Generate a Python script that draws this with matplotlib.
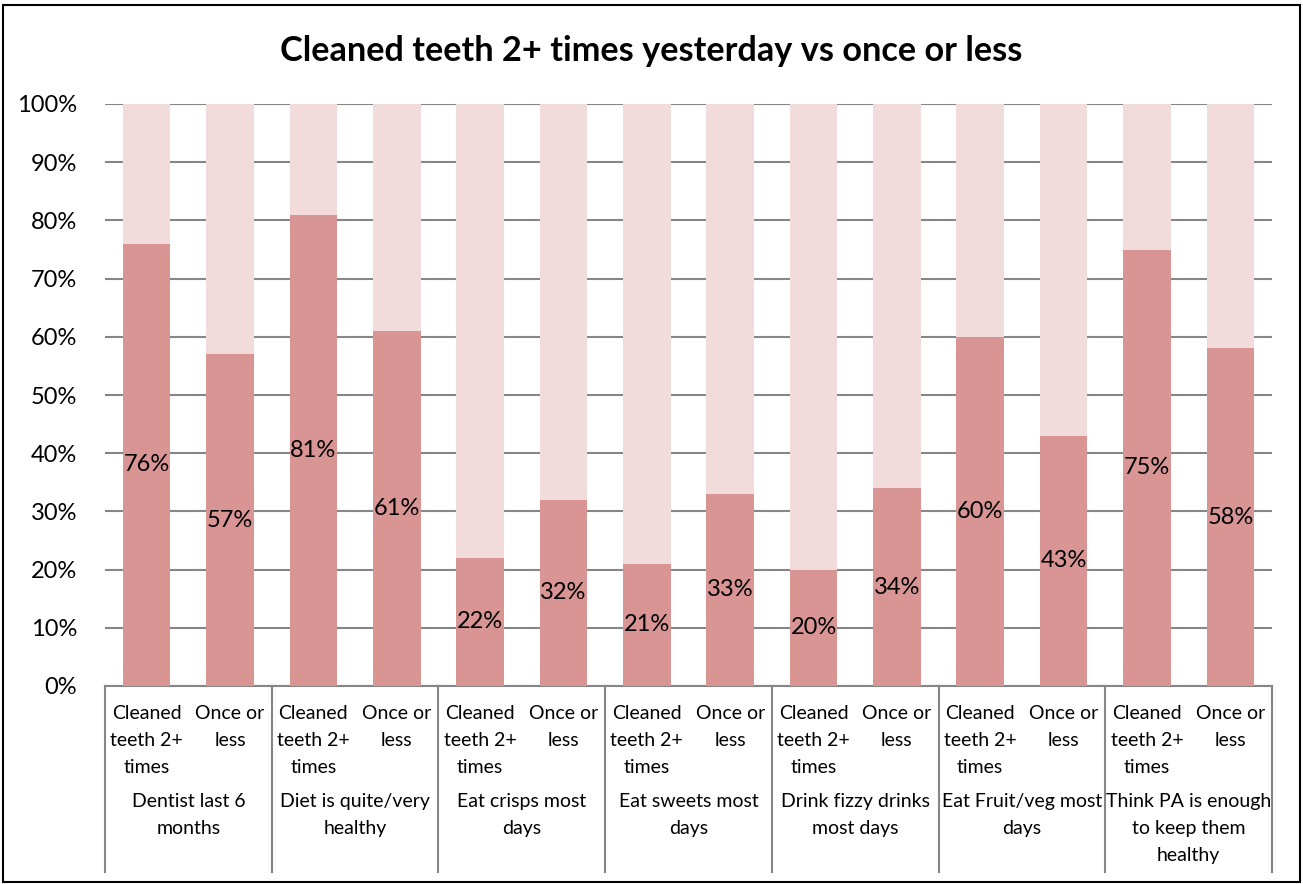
import matplotlib.pyplot as plt
from matplotlib.patches import Rectangle
from matplotlib.lines import Line2D
import numpy as np

plt.rcParams['font.family'] = ['Lato', 'DejaVu Sans']

# data
groups = ['Dentist last 6\nmonths', 'Diet is quite/very\nhealthy', 'Eat crisps most\ndays',
          'Eat sweets most\ndays', 'Drink fizzy drinks\nmost days', 'Eat Fruit/veg most\ndays',
          'Think PA is enough\nto keep them\nhealthy']
sub_labels = ['Cleaned\nteeth 2+\ntimes', 'Once or\nless']
cleaned_2plus = [76, 81, 22, 21, 20, 60, 75]
once_or_less = [57, 61, 32, 33, 34, 43, 58]

dark = '#D99594'
light = '#F2DCDB'
grid_col = '#868686'

vals = []
for a, b in zip(cleaned_2plus, once_or_less):
    vals += [a, b]
vals = np.array(vals)
x = np.arange(len(vals))

fig = plt.figure(figsize=(13.03, 8.84), dpi=100)
ax = fig.add_axes([105 / 1303, 1 - 686 / 884, 1167 / 1303, 582 / 884])

ax.bar(x, vals, width=0.57, color=dark, zorder=3)
ax.bar(x, 100 - vals, bottom=vals, width=0.57, color=light, zorder=3)

for xi, v in zip(x, vals):
    ax.text(xi, v / 2, f'{v}%', ha='center', va='center', fontsize=17, zorder=4)

ax.set_xlim(-0.5, len(vals) - 0.5)
ax.set_ylim(0, 100)
ax.set_yticks(range(0, 101, 10))
ax.set_yticklabels([f'{t}%' for t in range(0, 101, 10)], fontsize=17)
ax.yaxis.grid(True, color=grid_col, linewidth=1.5, zorder=0)
ax.tick_params(axis='y', length=0, pad=20)
ax.set_xticks([])
for s in ['top', 'right', 'left']:
    ax.spines[s].set_visible(False)
ax.spines['bottom'].set_color(grid_col)
ax.spines['bottom'].set_linewidth(1.5)

trans = ax.get_xaxis_transform()
for i, xi in enumerate(x):
    ax.text(xi, -0.033, sub_labels[i % 2], transform=trans, ha='center', va='top',
            fontsize=14, linespacing=1.72)
for g, name in enumerate(groups):
    ax.text(2 * g + 0.5, -0.184, name, transform=trans, ha='center', va='top',
            fontsize=14, linespacing=1.72)
for b in range(len(groups) + 1):
    ax.add_line(Line2D([2 * b - 0.5, 2 * b - 0.5], [0, -0.32], transform=trans,
                       color=grid_col, linewidth=1.5, clip_on=False))

fig.text(0.5, 1 - 51 / 884, 'Cleaned teeth 2+ times yesterday vs once or less',
         ha='center', va='center', fontsize=24.7, fontweight='bold')

fig.patches.append(Rectangle((3 / 1303, 2 / 884), 1297 / 1303, 877 / 884,
                             transform=fig.transFigure, fill=False,
                             edgecolor='black', linewidth=1.5))

fig.savefig('out.png', dpi=100)
